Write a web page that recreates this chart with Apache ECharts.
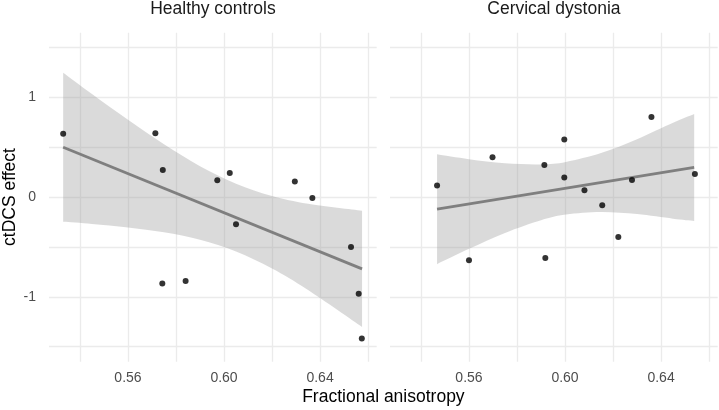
<!DOCTYPE html>
<html>
<head>
<meta charset="utf-8">
<script src="https://cdn.jsdelivr.net/npm/echarts@6/dist/echarts.min.js"></script>
<style>
  html, body { margin: 0; padding: 0; background: #fff; }
  #chart { width: 719px; height: 410px; }
</style>
</head>
<body>
<div id="chart"></div>
<script>
// panel titles
const panels = ["Healthy controls", "Cervical dystonia"];

// Healthy controls: points
const hcFA = [0.5330, 0.5714, 0.5745, 0.5972, 0.6024, 0.6295, 0.6368, 0.6050, 0.6529, 0.5743, 0.5840, 0.6561, 0.6574];
const hcEffect = [0.632, 0.639, 0.271, 0.167, 0.241, 0.154, -0.010, -0.274, -0.501, -0.866, -0.842, -0.969, -1.417];
// Healthy controls: fitted line + confidence band
const hcFitX = [0.5330, 0.6575];
const hcFitY = [0.497, -0.720];
const hcBandX = [0.5330, 0.545, 0.560, 0.575, 0.590, 0.605, 0.620, 0.635, 0.6575];
const hcBandLow = [-0.249, -0.270, -0.305, -0.354, -0.428, -0.546, -0.717, -0.932, -1.302];
const hcBandHigh = [1.243, 1.030, 0.772, 0.527, 0.308, 0.133, 0.010, -0.068, -0.138];

// Cervical dystonia: points
const cdFA = [0.5467, 0.5698, 0.5914, 0.5997, 0.5997, 0.6081, 0.6279, 0.6360, 0.6541, 0.6155, 0.6222, 0.5600, 0.5918];
const cdEffect = [0.114, 0.398, 0.321, 0.576, 0.195, 0.067, 0.171, 0.800, 0.231, -0.083, -0.401, -0.635, -0.612];
// Cervical dystonia: fitted line + confidence band
const cdFitX = [0.5467, 0.6538];
const cdFitY = [-0.123, 0.296];
const cdBandX = [0.5467, 0.560, 0.575, 0.590, 0.6004, 0.615, 0.630, 0.645, 0.6538];
const cdBandLow = [-0.673, -0.520, -0.361, -0.234, -0.177, -0.151, -0.172, -0.218, -0.240];
const cdBandHigh = [0.427, 0.378, 0.337, 0.326, 0.351, 0.439, 0.578, 0.742, 0.830];

// axis ticks
const xGridTicks = [0.54, 0.56, 0.58, 0.60, 0.62, 0.64, 0.66];
const xLabelTicks = [0.56, 0.60, 0.64];
const yGridTicks = [-1.5, -1, -0.5, 0, 0.5, 1, 1.5];
const yLabelTicks = [-1, 0, 1];

const font = "'Liberation Sans', Arial, sans-serif";
const zip = (a, b) => a.map((v, i) => [v, b[i]]);

function xAxisFor(idx) {
  return {
    type: "value",
    gridIndex: idx,
    min: 0.5271,
    max: 0.6636,
    axisLine: { show: false },
    axisTick: { show: false, customValues: xGridTicks },
    axisLabel: {
      customValues: xLabelTicks,
      formatter: (v) => v.toFixed(2),
      color: "#4d4d4d",
      fontSize: 14,
      fontFamily: font,
      margin: 9,
    },
    splitLine: { show: true, lineStyle: { color: "#ebebeb", width: 1.3 } },
  };
}

function yAxisFor(idx, showLabels) {
  return {
    type: "value",
    gridIndex: idx,
    min: -1.65,
    max: 1.645,
    axisLine: { show: false },
    axisTick: { show: false, customValues: yGridTicks },
    axisLabel: {
      show: showLabels,
      customValues: yLabelTicks,
      formatter: (v) => String(v),
      color: "#4d4d4d",
      fontSize: 14,
      fontFamily: font,
      margin: 13,
    },
    splitLine: { show: true, lineStyle: { color: "#ebebeb", width: 1.3 } },
  };
}

// smooth path (catmull-rom -> bezier) through pixel points
function curveTo(pts) {
  let d = "";
  for (let i = 0; i < pts.length - 1; i++) {
    const p0 = pts[Math.max(i - 1, 0)];
    const p1 = pts[i];
    const p2 = pts[i + 1];
    const p3 = pts[Math.min(i + 2, pts.length - 1)];
    const c1 = [p1[0] + (p2[0] - p0[0]) / 6, p1[1] + (p2[1] - p0[1]) / 6];
    const c2 = [p2[0] - (p3[0] - p1[0]) / 6, p2[1] - (p3[1] - p1[1]) / 6];
    d += " C" + c1[0] + " " + c1[1] + " " + c2[0] + " " + c2[1] + " " + p2[0] + " " + p2[1];
  }
  return d;
}

function bandSeries(idx, bandX, low, high) {
  return {
    type: "custom",
    xAxisIndex: idx,
    yAxisIndex: idx,
    silent: true,
    z: 1,
    data: bandX.map((x, i) => [x, low[i], high[i]]),
    encode: { x: 0, y: [1, 2] },
    renderItem: function (params, api) {
      if (params.dataIndex !== 0) return;
      const top = bandX.map((x, i) => api.coord([x, high[i]]));
      const bot = bandX.map((x, i) => api.coord([x, low[i]])).reverse();
      const d = "M" + top[0][0] + " " + top[0][1] + curveTo(top) +
        " L" + bot[0][0] + " " + bot[0][1] + curveTo(bot) + " Z";
      return {
        type: "path",
        shape: { pathData: d },
        style: { fill: "rgba(153,153,153,0.36)" },
      };
    },
  };
}

function panelSeries(idx, fa, eff, fitX, fitY, bandX, low, high) {
  return [
    bandSeries(idx, bandX, low, high),
    {
      type: "line",
      xAxisIndex: idx,
      yAxisIndex: idx,
      data: zip(fitX, fitY),
      symbol: "none",
      lineStyle: { color: "#7f7f7f", width: 2.8 },
      z: 2,
    },
    {
      type: "scatter",
      xAxisIndex: idx,
      yAxisIndex: idx,
      data: zip(fa, eff),
      symbolSize: 6,
      itemStyle: { color: "#000" },
      z: 3,
    },
  ];
}

let myChart = echarts.init(document.getElementById("chart"));
let option = {
  animation: false,
  backgroundColor: "#fff",
  grid: [
    { left: 49, right: 342.3, top: 32.7, bottom: 48.3 },
    { left: 390, right: 1.3, top: 32.7, bottom: 48.3 },
  ],
  xAxis: [xAxisFor(0), xAxisFor(1)],
  yAxis: [yAxisFor(0, true), yAxisFor(1, false)],
  series: [
    ...panelSeries(0, hcFA, hcEffect, hcFitX, hcFitY, hcBandX, hcBandLow, hcBandHigh),
    ...panelSeries(1, cdFA, cdEffect, cdFitX, cdFitY, cdBandX, cdBandLow, cdBandHigh),
  ],
  graphic: [
    {
      type: "text", x: 212.9, y: 9,
      style: { text: panels[0], font: "17.5px " + font, fill: "#1a1a1a", textAlign: "center", textVerticalAlign: "middle" },
    },
    {
      type: "text", x: 553.9, y: 9,
      style: { text: panels[1], font: "17.5px " + font, fill: "#1a1a1a", textAlign: "center", textVerticalAlign: "middle" },
    },
    {
      type: "text", x: 383.4, y: 397,
      style: { text: "Fractional anisotropy", font: "17.5px " + font, fill: "#000", textAlign: "center", textVerticalAlign: "middle" },
    },
    {
      type: "text", x: 10, y: 197, rotation: Math.PI / 2,
      style: { text: "ctDCS effect", font: "17.5px " + font, fill: "#000", textAlign: "center", textVerticalAlign: "middle" },
    },
  ],
};
myChart.setOption(option);
</script>
</body>
</html>
